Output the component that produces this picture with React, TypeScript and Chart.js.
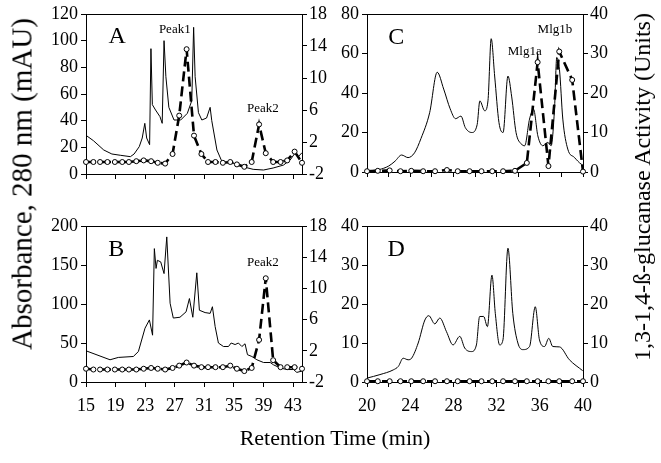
import React, { useEffect, useRef } from 'react';
import { Chart, registerables } from 'chart.js';

Chart.register(...registerables);

// ---------- Panel A ----------
const aAbsX = [15, 16, 17.4, 18.5, 19.7, 21, 21.5, 22.2, 22.6, 22.95, 23.2, 23.6, 23.78, 23.97, 24.4, 25.0, 25.3, 25.55, 25.8, 26.2, 26.9, 27.8, 28.7, 29.3, 29.55, 29.75, 30.2, 30.66, 31.3, 31.78, 32.0, 32.7, 33.4, 34.9, 36.2, 37.6, 39, 40.3, 41.7, 42.6, 43.3, 43.7, 44.2];
const aAbsY = [29, 25, 18, 15, 14, 13, 15, 20.5, 27, 38, 27, 22, 94, 52, 48, 43, 38, 100, 73, 50, 40.5, 40.5, 45.5, 55, 110, 73, 46, 40.5, 42, 50, 40, 18, 9, 8, 5.5, 3.5, 3, 4.5, 6.7, 10.5, 16, 13, 16];
const abActX = [15, 16, 16.9, 17.9, 18.9, 19.9, 20.8, 21.8, 22.8, 23.8, 24.7, 25.7, 26.7, 27.6, 28.6, 29.6, 30.6, 31.5, 32.5, 33.5, 34.5, 35.4, 36.4, 37.4, 38.4, 39.3, 40.3, 41.3, 42.2, 43.2, 44.2];
const aActY = [-0.5, -0.5, -0.5, -0.5, -0.5, -0.5, -0.5, -0.4, -0.3, -0.4, -0.6, -0.7, 0.5, 5.3, 13.6, 2.8, 0.5, -0.5, -0.5, -0.6, -0.5, -0.8, -1.1, -0.5, 4.2, 0.6, -0.5, -0.5, -0.3, 0.8, -0.6];

// ---------- Panel B ----------
const bAbsX = [15, 18.25, 19.37, 21.4, 22.08, 22.98, 23.57, 24.0, 24.24, 24.47, 24.65, 25.1, 25.55, 25.92, 26.37, 26.8, 27.7, 28.53, 28.98, 29.44, 29.98, 30.33, 31.1, 31.78, 32.09, 32.46, 32.9, 33.58, 34.26, 34.62, 35.16, 35.6, 36.07, 36.5, 36.83, 37.42, 38.1, 39.0, 39.9, 40.35, 41.25, 42.16, 43.05, 43.5, 44.18];
const bAbsY = [40, 28.5, 31.5, 32.7, 39, 69, 79.6, 60, 171, 145.6, 156, 154, 139, 186, 101, 82, 83, 90, 107, 83, 140, 92, 89, 88, 96.5, 71, 50, 45.5, 45.5, 50, 48, 50, 45.5, 49, 35, 32.7, 28.5, 25, 25, 22, 18, 16, 16, 12.3, 14];
const bActY = [-0.3, -0.4, -0.4, -0.4, -0.4, -0.4, -0.4, -0.4, -0.3, -0.2, -0.3, -0.4, -0.2, 0.1, 0.5, 0.1, -0.1, -0.1, -0.1, -0.1, 0.1, -0.3, -0.6, -0.2, 3.4, 11.3, 0.8, -0.1, -0.1, -0.1, -0.3];

// ---------- Panel C ----------
const cAbsX = [20, 21.1, 22, 22.6, 23.2, 23.8, 24.4, 25, 25.8, 26.5, 27.1, 27.7, 28.2, 28.7, 29.1, 29.7, 30.2, 30.45, 30.9, 31.2, 31.5, 31.82, 32.22, 32.6, 33.05, 33.4, 33.8, 34.3, 34.6, 35.05, 35.42, 35.82, 36.28, 36.74, 37.05, 37.36, 37.57, 37.82, 38.13, 38.59, 39.2, 39.82, 40];
const cAbsY = [0.5, 1.2, 3, 5.5, 8.6, 7.3, 9.7, 17, 30, 50.5, 42, 32, 27, 28.3, 22.5, 20, 24, 36, 31, 36, 67.5, 48.6, 25, 20, 48.6, 38, 20, 14.1, 13.3, 26.8, 31.8, 18.3, 13.3, 15, 13.3, 31.8, 58, 52, 26.8, 11.6, 7.4, 4, 3.5];
const cdActX = [20, 21, 22.1, 23.1, 24.1, 25.2, 26.3, 27.4, 28.4, 29.5, 30.6, 31.6, 32.6, 33.7, 34.8, 35.8, 36.8, 37.8, 39, 40];
const cActY = [0.2, 0.3, 0.4, 0.2, 0.3, 0.2, 0.2, 0.5, 0.2, 0.2, 0.2, 0.2, 0.2, 0.3, 2.3, 27.8, 1.5, 30.5, 23.3, 0.1];

// ---------- Panel D ----------
const dAbsX = [20, 21.2, 22.43, 22.9, 23.35, 23.81, 24.13, 24.74, 25.36, 25.72, 26.28, 26.74, 27.36, 27.97, 28.59, 29.05, 29.67, 30.13, 30.43, 30.8, 31.15, 31.57, 31.88, 32.28, 32.59, 33.05, 33.5, 33.97, 34.43, 35.05, 35.58, 35.97, 36.44, 36.83, 37.2, 37.82, 38.74, 39.97];
const dAbsY = [1, 1.9, 3.1, 4, 6.1, 5.7, 6.1, 10, 15.9, 17, 14.9, 16.4, 12.9, 9.5, 11.7, 8.7, 7.8, 9.5, 16.8, 16.8, 14.2, 27.4, 17.6, 9.5, 10.8, 34.3, 17.6, 10, 8.3, 9.1, 19.3, 10.8, 9.1, 11.2, 9.1, 9, 5.7, 2.9];
const dActY = [0.2, 0.2, 0.2, 0.2, 0.2, 0.2, 0.2, 0.2, 0.2, 0.2, 0.2, 0.2, 0.2, 0.2, 0.2, 0.2, 0.2, 0.2, 0.2, 0.2];

// ---------- Tick values ----------
const abXTicks = [15, 19, 23, 27, 31, 35, 39, 43];
const cdXTicks = [20, 22, 24, 26, 28, 30, 32, 34, 36, 38, 40];
const cdXLabels = [20, 24, 28, 32, 36, 40];
const aLeftTicks = [0, 20, 40, 60, 80, 100, 120];
const bLeftTicks = [0, 50, 100, 150, 200];
const abRightTicks = [-2, 2, 6, 10, 14, 18];
const cLeftTicks = [0, 20, 40, 60, 80];
const cRightTicks = [0, 10, 20, 30, 40];
const dLeftTicks = [0, 10, 20, 30, 40];
const dRightTicks = [0, 10, 20, 30, 40];

// ---------- Text labels (data coordinates) ----------
const aLabels = [
  { text: 'A', x: 19.2, y: 103, size: 24 },
  { text: 'Peak1', x: 27.0, y: 108, size: 13 },
  { text: 'Peak2', x: 38.9, y: 49, size: 13 },
];
const bLabels = [
  { text: 'B', x: 19.1, y: 169, size: 24 },
  { text: 'Peak2', x: 38.9, y: 153, size: 13 },
];
const cLabels = [
  { text: 'C', x: 22.7, y: 68, size: 24 },
  { text: 'Mlg1a', x: 34.6, y: 61, size: 13 },
  { text: 'Mlg1b', x: 37.4, y: 72, size: 13 },
];
const dLabels = [{ text: 'D', x: 22.7, y: 34, size: 24 }];

const FONT = 'Liberation Serif';

const framePlugin = {
  id: 'frame',
  afterDraw(chart: any, _args: any, opts: any) {
    const { ctx, chartArea: a, scales } = chart;
    ctx.save();
    ctx.strokeStyle = '#000';
    ctx.lineWidth = 1;
    ctx.beginPath();
    ctx.moveTo(a.left, Math.round(a.top) + 0.5);
    ctx.lineTo(a.right + 1, Math.round(a.top) + 0.5);
    ctx.stroke();
    ctx.fillStyle = '#000';
    ctx.textAlign = 'center';
    ctx.textBaseline = 'middle';
    (opts.labels || []).forEach((l: any) => {
      ctx.font = `${l.size}px "${FONT}"`;
      ctx.fillText(l.text, scales.x.getPixelForValue(l.x), scales.y.getPixelForValue(l.y));
    });
    ctx.restore();
  },
};

function makeScale(pos: string, min: number, max: number, ticks: number[], size: number, labels: number[] | null, padding: number) {
  return {
    type: 'linear',
    position: pos,
    min,
    max,
    afterBuildTicks: (s: any) => {
      s.ticks = ticks.map((v) => ({ value: v }));
    },
    afterFit: (s: any) => {
      if (pos === 'bottom') s.height = size;
      else s.width = size;
    },
    grid: { drawOnChartArea: false, drawTicks: true, tickLength: 5, color: '#000', lineWidth: 1 },
    border: { display: true, color: '#000', width: 1 },
    ticks: {
      color: '#000',
      font: { family: FONT, size: 18 },
      padding,
      autoSkip: false,
      maxRotation: 0,
      callback: (v: any) => (labels && labels.indexOf(Number(v)) >= 0 ? String(v) : ''),
    },
  };
}

function panelConfig(p: any) {
  return {
    type: 'line',
    data: {
      datasets: [
        {
          data: p.actX.map((x: number, i: number) => ({ x, y: p.actY[i] })),
          yAxisID: 'y2',
          borderColor: '#000',
          borderWidth: 2.6,
          borderDash: [10, 5],
          pointRadius: 2.5,
          pointBackgroundColor: '#fff',
          pointBorderColor: '#000',
          pointBorderWidth: 1,
          clip: false,
          tension: 0,
        },
        {
          data: p.absX.map((x: number, i: number) => ({ x, y: p.absY[i] })),
          yAxisID: 'y',
          borderColor: '#000',
          borderWidth: 1,
          pointRadius: 0,
          tension: p.smooth ? 0.4 : 0,
          cubicInterpolationMode: p.smooth ? 'monotone' : 'default',
        },
      ],
    },
    options: {
      responsive: false,
      animation: false,
      events: [],
      layout: { padding: { top: p.padTop, left: 0, right: 0, bottom: 0 } },
      plugins: { legend: { display: false }, tooltip: { enabled: false }, frame: { labels: p.labels } },
      scales: {
        x: makeScale('bottom', p.xMin, p.xMax, p.xTicks, p.xHeight, p.xLabels, 8),
        y: makeScale('left', p.yMin, p.yMax, p.yTicks, p.leftW, p.yTicks, 3),
        y2: makeScale('right', p.y2Min, p.y2Max, p.y2Ticks, p.rightW, p.y2Ticks, 2),
      },
    },
    plugins: [framePlugin],
  };
}

export default function App() {
  const refA = useRef<HTMLCanvasElement>(null);
  const refB = useRef<HTMLCanvasElement>(null);
  const refC = useRef<HTMLCanvasElement>(null);
  const refD = useRef<HTMLCanvasElement>(null);

  useEffect(() => {
    const charts = [
      new Chart(refA.current as any, panelConfig({
        absX: aAbsX, absY: aAbsY, actX: abActX, actY: aActY, smooth: false, labels: aLabels,
        xMin: 15, xMax: 44.2, xTicks: abXTicks, xLabels: null, xHeight: 16,
        yMin: 0, yMax: 120, yTicks: aLeftTicks, leftW: 56,
        y2Min: -2, y2Max: 18, y2Ticks: abRightTicks, rightW: 38, padTop: 14,
      }) as any),
      new Chart(refB.current as any, panelConfig({
        absX: bAbsX, absY: bAbsY, actX: abActX, actY: bActY, smooth: false, labels: bLabels,
        xMin: 15, xMax: 44.2, xTicks: abXTicks, xLabels: abXTicks, xHeight: 48,
        yMin: 0, yMax: 200, yTicks: bLeftTicks, leftW: 56,
        y2Min: -2, y2Max: 18, y2Ticks: abRightTicks, rightW: 38, padTop: 36,
      }) as any),
      new Chart(refC.current as any, panelConfig({
        absX: cAbsX, absY: cAbsY, actX: cdActX, actY: cActY, smooth: true, labels: cLabels,
        xMin: 20, xMax: 40, xTicks: cdXTicks, xLabels: null, xHeight: 18,
        yMin: 0, yMax: 80, yTicks: cLeftTicks, leftW: 37,
        y2Min: 0, y2Max: 40, y2Ticks: cRightTicks, rightW: 78, padTop: 14,
      }) as any),
      new Chart(refD.current as any, panelConfig({
        absX: dAbsX, absY: dAbsY, actX: cdActX, actY: dActY, smooth: true, labels: dLabels,
        xMin: 20, xMax: 40, xTicks: cdXTicks, xLabels: cdXLabels, xHeight: 48,
        yMin: 0, yMax: 40, yTicks: dLeftTicks, leftW: 37,
        y2Min: 0, y2Max: 40, y2Ticks: dRightTicks, rightW: 78, padTop: 36,
      }) as any),
    ];
    return () => charts.forEach((c) => c.destroy());
  }, []);

  const cv = (left: number, top: number, w: number, h: number): React.CSSProperties => ({
    position: 'absolute', left, top, width: w, height: h, display: 'block',
  });
  const title = (left: number, top: number, size: number, rotate: boolean): React.CSSProperties => ({
    position: 'absolute', left, top,
    transform: rotate ? 'translate(-50%,-50%) rotate(-90deg)' : 'translate(-50%,-50%)',
    font: `${size}px "${FONT}"`, lineHeight: 1, whiteSpace: 'nowrap', color: '#000',
  });

  return (
    <div style={{ position: 'absolute', left: 0, top: 0, width: 661, height: 463, background: '#fff', overflow: 'hidden' }}>
      <canvas ref={refA} width={310} height={190} style={cv(30, 0, 310, 190)} />
      <canvas ref={refB} width={310} height={240} style={cv(30, 190, 310, 240)} />
      <canvas ref={refC} width={331} height={190} style={cv(330, 0, 331, 190)} />
      <canvas ref={refD} width={331} height={240} style={cv(330, 190, 331, 240)} />
      <div style={title(22, 184, 29, true)}>Absorbance, 280 nm (mAU)</div>
      <div style={title(642, 187, 24, true)}>1,3-1,4-ß-glucanase Activity (Units)</div>
      <div style={title(335, 438, 22, false)}>Retention Time (min)</div>
    </div>
  );
}
